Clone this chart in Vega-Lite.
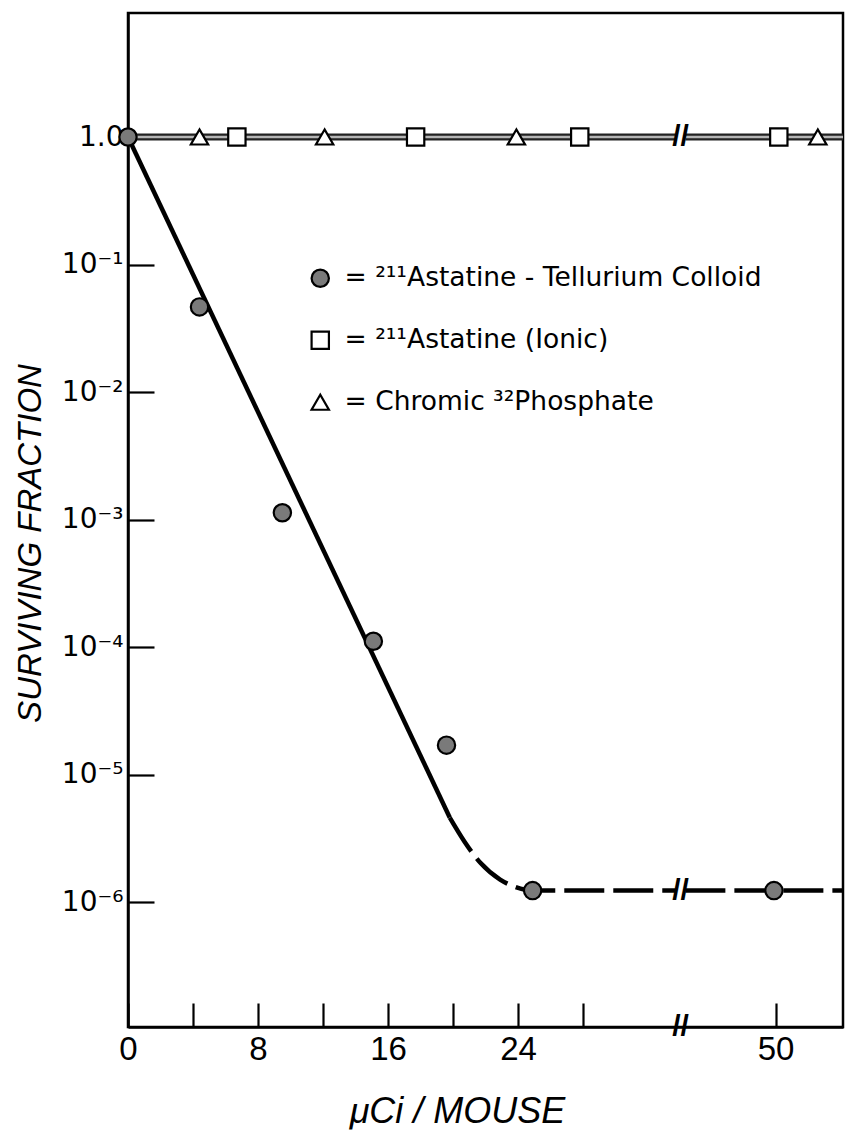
{
  "$schema": "https://vega.github.io/schema/vega-lite/v6.json",
  "width": 715,
  "height": 1014,
  "autosize": {"type": "none"},
  "padding": {"left": 128, "top": 13, "right": 3, "bottom": 105},
  "background": "white",
  "config": {
    "view": {"stroke": "black", "strokeWidth": 2.5},
    "font": "Liberation Sans",
    "axis": {
      "grid": false,
      "domainColor": "black",
      "domainWidth": 2.5,
      "tickColor": "black",
      "tickWidth": 2.2,
      "labelColor": "black",
      "titleColor": "black",
      "labelFont": "Liberation Sans",
      "titleFont": "Liberation Sans"
    },
    "legend": {
      "orient": "none",
      "legendX": 179,
      "legendY": 252,
      "title": null,
      "padding": 0,
      "labelFontSize": 26.5,
      "labelFont": "DejaVu Sans",
      "labelColor": "black",
      "labelLimit": 700,
      "labelOffset": 11,
      "symbolSize": 300,
      "symbolStrokeWidth": 2.2,
      "symbolStrokeColor": "black",
      "rowPadding": 35
    }
  },
  "datasets": {
    "points": [
      {"agent": "²¹¹Astatine - Tellurium Colloid", "dose": 0, "frac": 1},
      {"agent": "²¹¹Astatine - Tellurium Colloid", "dose": 4.4, "frac": 0.0465},
      {"agent": "²¹¹Astatine - Tellurium Colloid", "dose": 9.5, "frac": 0.00113},
      {"agent": "²¹¹Astatine - Tellurium Colloid", "dose": 15.1, "frac": 0.000111},
      {"agent": "²¹¹Astatine - Tellurium Colloid", "dose": 19.6, "frac": 0.000017},
      {"agent": "²¹¹Astatine - Tellurium Colloid", "dose": 24.9, "frac": 0.00000123},
      {"agent": "²¹¹Astatine - Tellurium Colloid", "dose": 49.9, "frac": 0.00000123},
      {"agent": "²¹¹Astatine (Ionic)", "dose": 6.7, "frac": 1},
      {"agent": "²¹¹Astatine (Ionic)", "dose": 17.7, "frac": 1},
      {"agent": "²¹¹Astatine (Ionic)", "dose": 27.8, "frac": 1},
      {"agent": "²¹¹Astatine (Ionic)", "dose": 50.2, "frac": 1},
      {"agent": "Chromic ³²Phosphate", "dose": 4.4, "frac": 1},
      {"agent": "Chromic ³²Phosphate", "dose": 12.1, "frac": 1},
      {"agent": "Chromic ³²Phosphate", "dose": 23.9, "frac": 1},
      {"agent": "Chromic ³²Phosphate", "dose": 52.6, "frac": 1}
    ],
    "curves": [
      {"curve": "flat", "part": "a", "dose": 0, "frac": 1},
      {"curve": "flat", "part": "a", "dose": 33.7, "frac": 1},
      {"curve": "flat", "part": "b", "dose": 44.45, "frac": 1},
      {"curve": "flat", "part": "b", "dose": 54.15, "frac": 1},
      {"curve": "fit", "part": "solid", "dose": 0, "frac": 1},
      {"curve": "fit", "part": "solid", "dose": 19.8, "frac": 0.0000046},
      {"curve": "fit", "part": "dash1", "dose": 19.8, "frac": 0.0000046},
      {"curve": "fit", "part": "dash1", "dose": 20.7, "frac": 0.00000299},
      {"curve": "fit", "part": "dash1", "dose": 21.7, "frac": 0.00000202},
      {"curve": "fit", "part": "dash1", "dose": 22.9, "frac": 0.0000015},
      {"curve": "fit", "part": "dash1", "dose": 23.8, "frac": 0.00000132},
      {"curve": "fit", "part": "dash1", "dose": 24.9, "frac": 0.00000123},
      {"curve": "fit", "part": "dash1", "dose": 33.7, "frac": 0.00000123},
      {"curve": "fit", "part": "dash2", "dose": 44.45, "frac": 0.00000123},
      {"curve": "fit", "part": "dash2", "dose": 54.15, "frac": 0.00000123}
    ],
    "breaks": [
      {"dose": 34, "frac": 1, "sym": "//"},
      {"dose": 34, "frac": 0.00000123, "sym": "//"},
      {"dose": 34, "frac": 0.0000001047, "sym": "//"}
    ]
  },
  "encoding": {
    "x": {
      "field": "dose",
      "type": "quantitative",
      "scale": {"domain": [0, 34, 44.15, 54.15], "range": [0, 552.5, 552.5, 715], "nice": false, "zero": false},
      "axis": {
        "values": [0, 4, 8, 12, 16, 20, 24, 28, 50],
        "labelExpr": "indexof([0, 8, 16, 24, 50], datum.value) >= 0 ? datum.label : ''",
        "tickSize": -24,
        "labelPadding": 30,
        "labelFontSize": 33,
        "labelFlush": false,
        "labelOverlap": false,
        "title": "μCi / MOUSE",
        "titleFontSize": 36,
        "titleFontStyle": "italic",
        "titleFontWeight": "normal",
        "titleX": 329,
        "titleY": 95,
        "titleBaseline": "alphabetic",
        "titleAlign": "center"
      }
    },
    "y": {
      "field": "frac",
      "type": "quantitative",
      "scale": {"type": "log", "domain": [0.0000001047, 9.39], "nice": false},
      "axis": {
        "values": [0.000001, 0.00001, 0.0001, 0.001, 0.01, 0.1, 1],
        "labelExpr": "datum.value > 0.5 ? '1.0' : '10⁻' + ['', '¹', '²', '³', '⁴', '⁵', '⁶'][round(-log(datum.value) / LN10)]",
        "labelFont": "DejaVu Sans",
        "tickSize": -26,
        "labelPadding": 31,
        "labelFontSize": 28,
        "labelOverlap": false,
        "title": "SURVIVING FRACTION",
        "titleFontSize": 33,
        "titleFontStyle": "italic",
        "titleFontWeight": "normal",
        "titleAngle": -90,
        "titleX": -88,
        "titleY": 530,
        "titleBaseline": "alphabetic",
        "titleAlign": "center"
      }
    }
  },
  "layer": [
    {
      "data": {"name": "curves"},
      "transform": [{"filter": "datum.curve === 'flat'"}],
      "mark": {"type": "line", "stroke": "#222222", "strokeWidth": 7},
      "encoding": {"detail": {"field": "part"}}
    },
    {
      "data": {"name": "curves"},
      "transform": [{"filter": "datum.curve === 'flat'"}],
      "mark": {"type": "line", "stroke": "#b5b5b5", "strokeWidth": 2.5},
      "encoding": {"detail": {"field": "part"}}
    },
    {
      "data": {"name": "curves"},
      "transform": [{"filter": "datum.curve === 'fit' && datum.part === 'solid'"}],
      "mark": {"type": "line", "stroke": "black", "strokeWidth": 4.5},
      "encoding": {"detail": {"field": "part"}}
    },
    {
      "data": {"name": "curves"},
      "transform": [{"filter": "datum.curve === 'fit' && datum.part !== 'solid'"}],
      "mark": {"type": "line", "stroke": "black", "strokeWidth": 4.5, "strokeDash": [40, 9], "interpolate": "monotone"},
      "encoding": {"detail": {"field": "part"}}
    },
    {
      "data": {"name": "breaks"},
      "mark": {"type": "text", "fontSize": 30, "font": "Liberation Sans", "fontWeight": "bold", "baseline": "middle", "align": "center", "color": "black"},
      "encoding": {"text": {"field": "sym"}}
    },
    {
      "data": {"name": "points"},
      "mark": {"type": "point", "filled": true, "strokeWidth": 2.2, "size": 300, "opacity": 1},
      "encoding": {
        "shape": {
          "field": "agent",
          "type": "nominal",
          "scale": {"domain": ["²¹¹Astatine - Tellurium Colloid", "²¹¹Astatine (Ionic)", "Chromic ³²Phosphate"], "range": ["circle", "square", "triangle-up"]},
          "legend": {"labelExpr": "'=  ' + datum.label"}
        },
        "fill": {
          "field": "agent",
          "type": "nominal",
          "scale": {"domain": ["²¹¹Astatine - Tellurium Colloid", "²¹¹Astatine (Ionic)", "Chromic ³²Phosphate"], "range": ["#7a7a7a", "white", "white"]},
          "legend": {"labelExpr": "'=  ' + datum.label"}
        },
        "stroke": {
          "field": "agent",
          "type": "nominal",
          "scale": {"domain": ["²¹¹Astatine - Tellurium Colloid", "²¹¹Astatine (Ionic)", "Chromic ³²Phosphate"], "range": ["black", "black", "black"]},
          "legend": {"labelExpr": "'=  ' + datum.label"}
        }
      }
    }
  ]
}
